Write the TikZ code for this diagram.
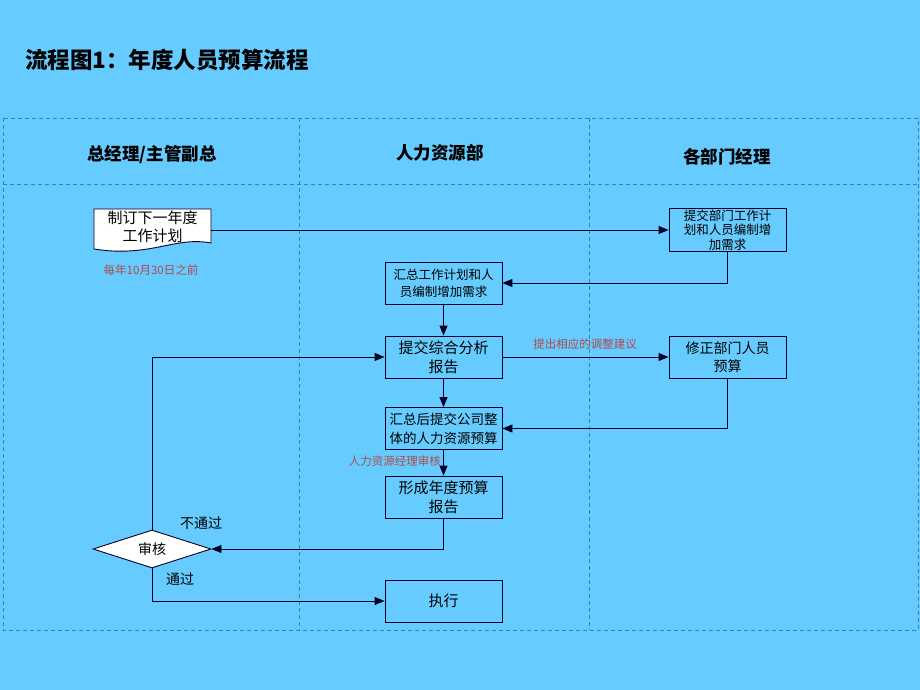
\documentclass[tikz,border=0pt]{standalone}
\usepackage{fontspec}
\setmainfont{Noto Sans CJK SC}
\usetikzlibrary{arrows.meta,shapes.geometric}
\definecolor{bg}{HTML}{66CCFF}
\definecolor{lane}{HTML}{2F86B4}
\definecolor{note}{HTML}{B04A4A}
\tikzset{
  box/.style={draw=black!85!blue,line width=0.9pt,minimum width=117pt,minimum height=42pt,align=center,inner sep=1pt},
  conn/.style={line width=0.9pt,draw=black!85!blue,-{Triangle[length=10pt,width=8pt]}},
  lanes/.style={draw=lane,line width=0.8pt,dash pattern=on 4pt off 3pt},
  hdr/.style={font=\fontsize{17.5}{20}\selectfont\bfseries},
  notelbl/.style={text=note,font=\fontsize{11.5}{13}\selectfont,inner sep=0pt},
  plain/.style={font=\fontsize{14}{16}\selectfont,inner sep=0pt},
}
\begin{document}
\begin{tikzpicture}[x=1pt,y=-1pt]
\fill[bg] (0,0) rectangle (920,690);
\useasboundingbox (0,0) rectangle (920,690);
% title
\node[anchor=west,font=\fontsize{22.5}{24}\selectfont\bfseries,inner sep=0pt] (title) at (25,60) {流程图1：年度人员预算流程};
% lanes
\draw[lanes] (3,118) rectangle (918,630);
\draw[lanes] (299,118) -- (299,630);
\draw[lanes] (589,118) -- (589,630);
\draw[lanes] (3,184) -- (918,184);
\node[hdr] (h1) at (152,155) {总经理/主管副总};
\node[hdr] (h2) at (440,153) {人力资源部};
\node[hdr] (h3) at (727,157) {各部门经理};
% document shape
\draw[fill=white,line width=0.9pt,draw=black!85!blue] (94,209) -- (211,209) -- (211,243) .. controls (175,236) and (150,258) .. (94,249) -- cycle;
\node[font=\fontsize{15}{18}\selectfont,align=center,inner sep=0pt] (doc) at (152.5,227) {制订下一年度\\工作计划};
\coordinate (docR) at (211,230);
\node[notelbl] (n1) at (151,270) {每年10月30日之前};
% boxes
\node[box,font=\fontsize{12.5}{14.5}\selectfont] (dept) at (727.5,230) {提交部门工作计\\划和人员编制增\\加需求};
\node[box,font=\fontsize{12.5}{17}\selectfont] (sum1) at (443.5,283) {汇总工作计划和人\\员编制增加需求};
\node[box,font=\fontsize{15}{19}\selectfont] (rep) at (443.5,357) {提交综合分析\\报告};
\node[box,font=\fontsize{14}{18}\selectfont] (fix) at (727.5,357) {修正部门人员\\预算};
\node[box,font=\fontsize{13.5}{19}\selectfont] (sum2) at (443.5,428.5) {汇总后提交公司整\\体的人力资源预算};
\node[box,font=\fontsize{15}{19}\selectfont] (form) at (443.5,497) {形成年度预算\\报告};
\node[box,font=\fontsize{15}{19}\selectfont] (exec) at (443.5,601) {执行};
\node[draw=black!85!blue,fill=white,line width=0.9pt,diamond,aspect=3.1,minimum width=118pt,minimum height=38pt,inner sep=0pt,font=\fontsize{14}{16}\selectfont] (chk) at (152,549) {审核};
% connectors
\draw[conn] (docR) -- (docR -| dept.west);
\draw[conn] (dept.south) |- (sum1.east);
\draw[conn] (sum1.south) -- (rep.north);
\draw[conn] (rep.east) -- (fix.west);
\node[notelbl] (n2) at (585,344) {提出相应的调整建议};
\draw[conn] (fix.south) |- (sum2.east);
\draw[conn] (rep.south) -- (sum2.north);
\draw[conn] (sum2.south) -- (form.north);
\node[notelbl,anchor=east] (n3) at (441,461) {人力资源经理审核};
\draw[conn] (form.south) |- (chk.east);
\draw[conn] (chk.north) |- (rep.west);
\draw[conn] (chk.south) |- (exec.west);
\node[plain] (no) at (201,523) {不通过};
\node[plain] (yes) at (180,579) {通过};
\end{tikzpicture}
\end{document}
